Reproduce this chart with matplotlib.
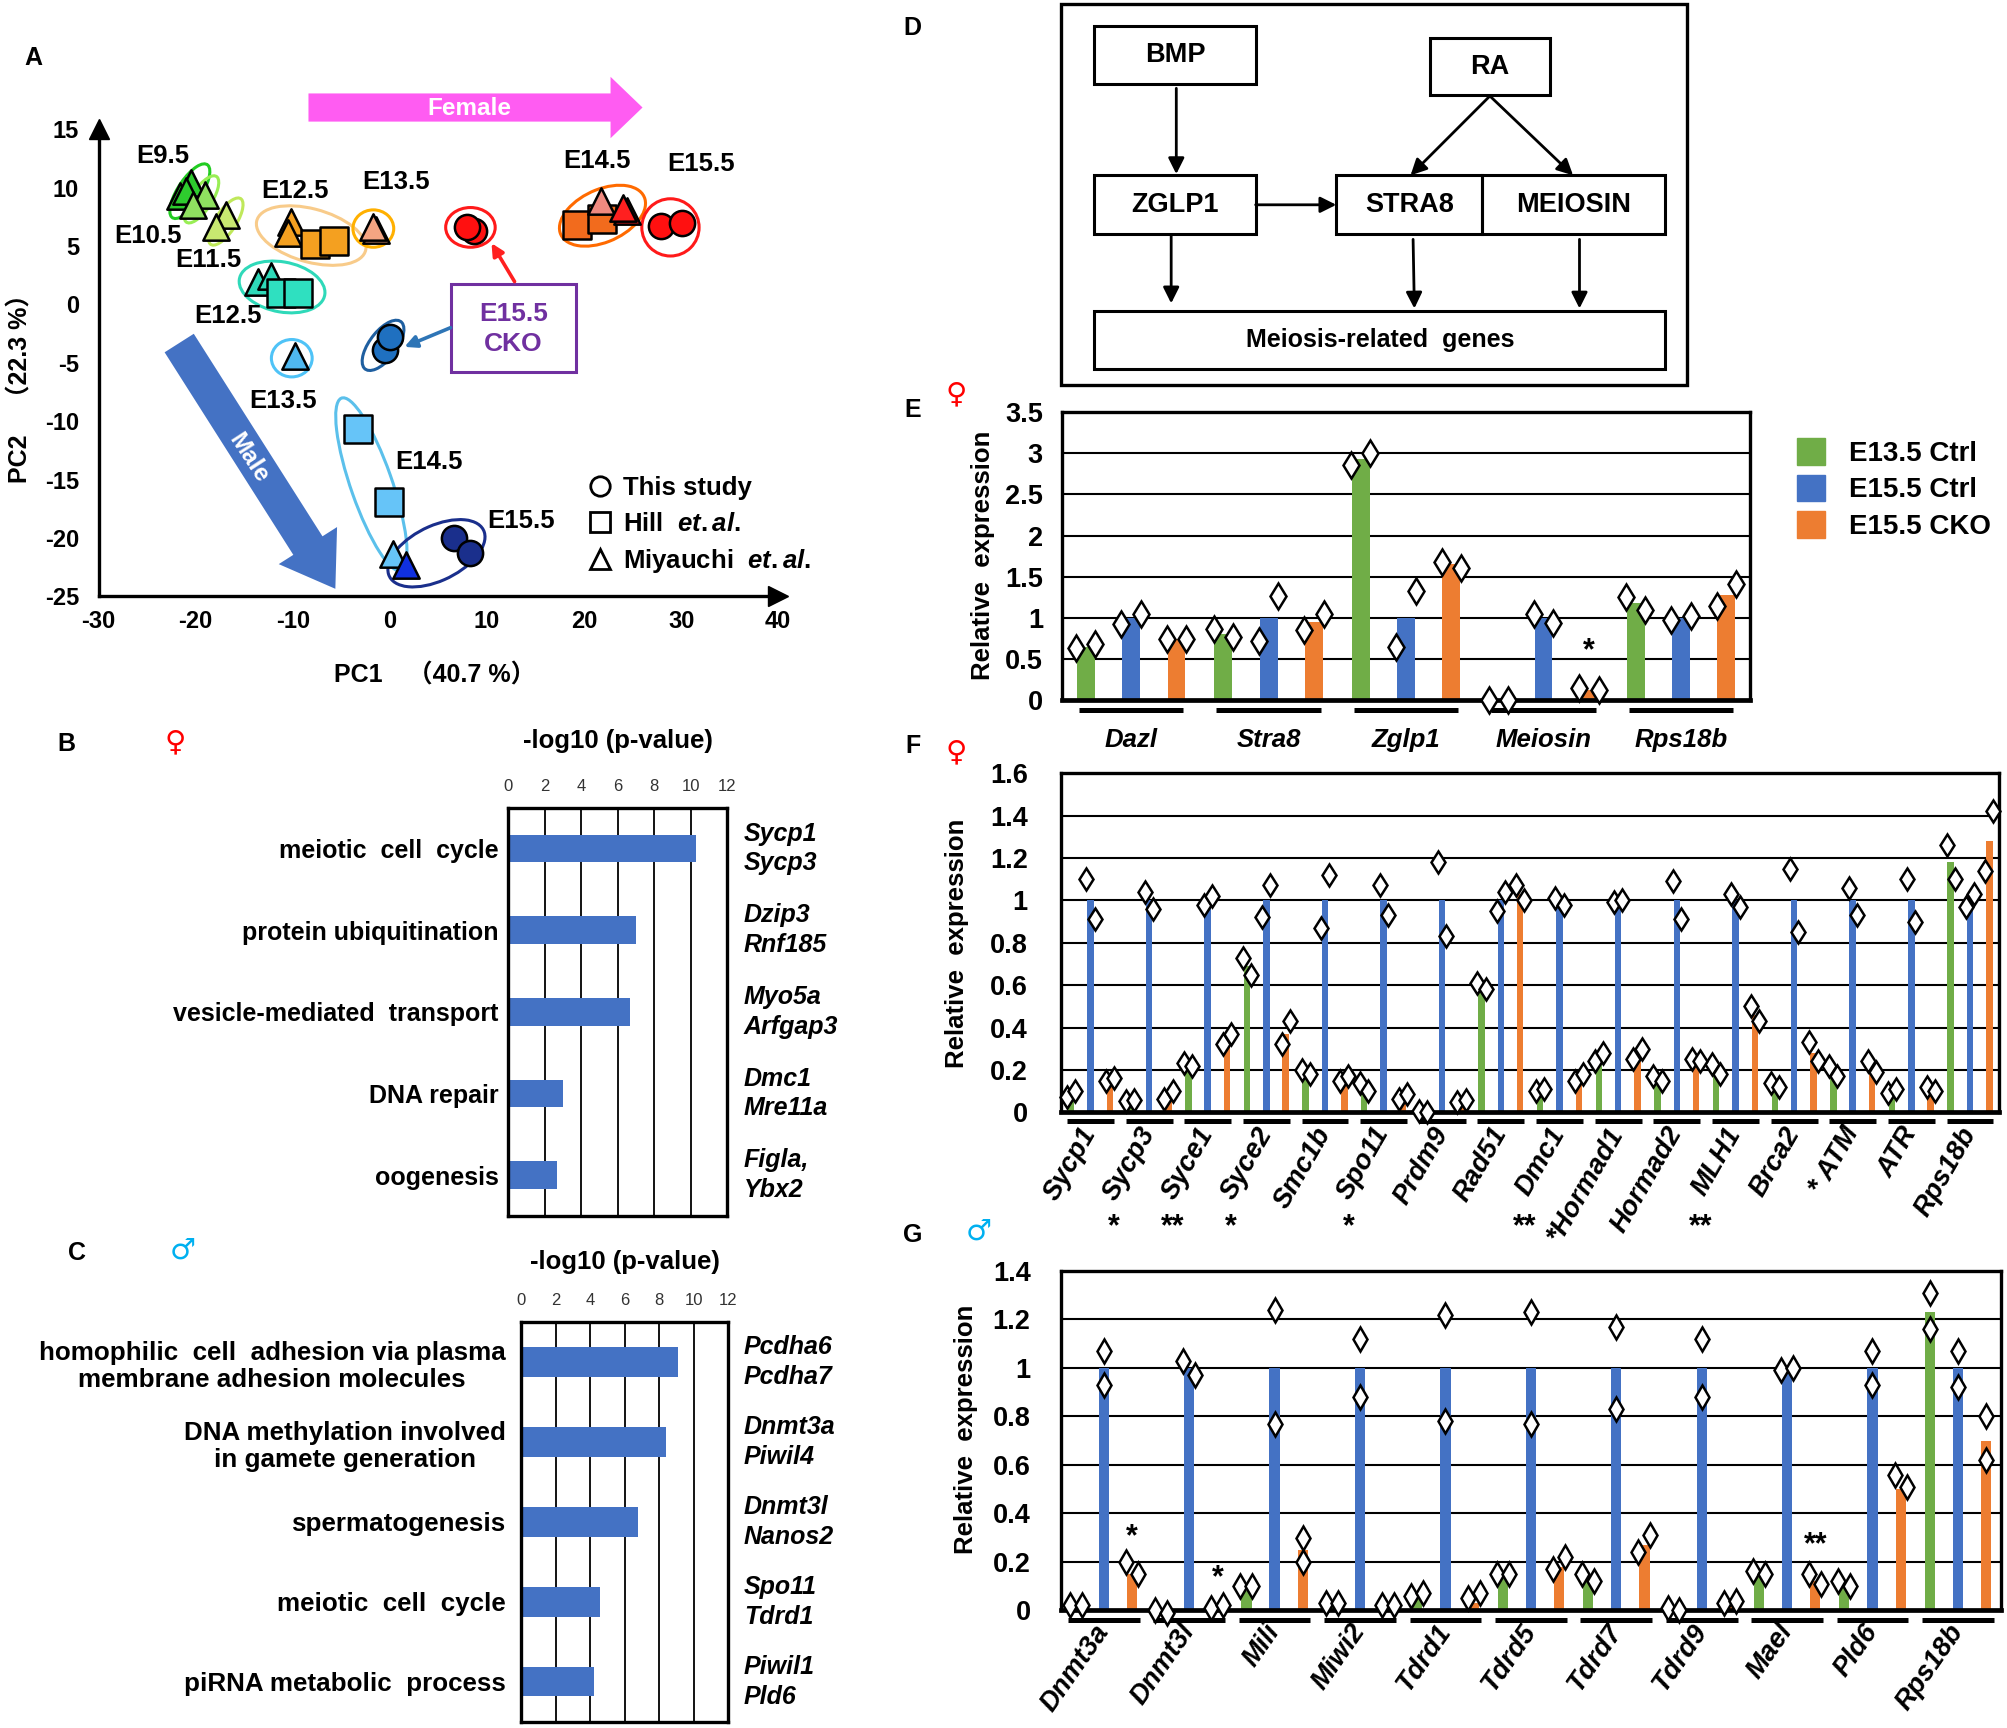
import numpy as np
import matplotlib.pyplot as plt
import matplotlib.transforms as mtransforms
from matplotlib.patches import Ellipse, Rectangle, FancyArrow, Patch
from matplotlib.lines import Line2D

plt.rcParams['font.family'] = ['Liberation Sans', 'DejaVu Sans']
plt.rcParams['font.weight'] = 'bold'
plt.rcParams['axes.unicode_minus'] = False
plt.rcParams['mathtext.fontset'] = 'custom'
plt.rcParams['mathtext.it'] = 'Liberation Sans:italic:bold'
plt.rcParams['mathtext.rm'] = 'Liberation Sans:bold'

GREEN, BLUE, ORANGE = '#70ad47', '#4472c4', '#ed7d31'

#---------------------
# (A) PCA data
#---------------------
pca_pc1 = [-21.6, -20.5, -21.0, -19.0, -20.3, -16.9, -17.9,
           -10.2, -10.5, -7.7, -5.7, -1.4, -1.7,
           19.3, 21.8, 21.7, 24.4, 24.0, 27.9, 30.1, 8.7, 7.9,
           -13.6, -12.2, -11.2, -9.5, -9.8, -0.5, 0.0,
           -3.3, -0.05, 0.3, 1.7, 6.6, 8.3]
pca_pc2 = [9.3, 10.4, 9.7, 9.4, 8.5, 7.7, 6.6,
           7.1, 6.1, 5.2, 5.4, 6.4, 6.6,
           6.8, 7.3, 8.9, 8.0, 8.3, 6.7, 7.0, 6.3, 6.6,
           1.9, 2.4, 1.0, 1.0, -4.4, -3.9, -2.8,
           -10.7, -16.9, -21.4, -22.3, -20.0, -21.3]
pca_series = ['Miyauchi E9.5'] * 3 + ['Miyauchi E10.5'] * 2 + ['Miyauchi E11.5'] * 2 + \
             ['Miyauchi E12.5F'] * 2 + ['Hill E12.5F'] * 2 + ['Miyauchi E13.5F'] * 2 + \
             ['Hill E14.5F'] * 2 + ['Miyauchi E14.5F'] + ['Miyauchi E15.5F'] * 2 + \
             ['This E15.5F'] * 2 + ['This CKOF'] * 2 + \
             ['Miyauchi E12.5M'] * 2 + ['Hill E12.5M'] * 2 + ['Miyauchi E13.5M'] + \
             ['This CKOM'] * 2 + ['Hill E14.5M'] * 2 + ['Miyauchi E14.5M'] + \
             ['Miyauchi E15.5M'] + ['This E15.5M'] * 2

series_color = {
    'Miyauchi E9.5': '#2ecc2e', 'Miyauchi E10.5': '#8fe060', 'Miyauchi E11.5': '#c8e870',
    'Miyauchi E12.5F': '#f4a020', 'Hill E12.5F': '#f4a020', 'Miyauchi E13.5F': '#f4a582',
    'Hill E14.5F': '#f26b1d', 'Miyauchi E14.5F': '#f08a80', 'Miyauchi E15.5F': '#ff2020',
    'This E15.5F': '#ff1010', 'This CKOF': '#ff1010',
    'Miyauchi E12.5M': '#2fd9b9', 'Hill E12.5M': '#2fe0c0', 'Miyauchi E13.5M': '#4fb8f0',
    'This CKOM': '#1f70c0', 'Hill E14.5M': '#66c4f8', 'Miyauchi E14.5M': '#66c4f8',
    'Miyauchi E15.5M': '#1030e0', 'This E15.5M': '#1a2f8c'}
source_marker = {'This': 'o', 'Hill': 's', 'Miyauchi': '^'}
source_size = {'This': 330, 'Hill': 380, 'Miyauchi': 360}

# rings around clusters: centre x, centre y, width, height, angle, colour
a_rings = [(-20.6, 9.7, 5.8, 2.3, 50, '#22cc22'), (-19.4, 9.0, 5.0, 2.0, 50, '#99ee55'),
           (-16.9, 7.1, 5.0, 2.0, 50, '#bfe85a'), (-8.1, 5.9, 11.5, 4.6, -12, '#f8cb8a'),
           (-1.7, 6.5, 4.2, 3.2, 0, '#ffb000'), (8.3, 6.6, 5.1, 3.4, 0, '#ff1a1a'),
           (21.9, 7.6, 9.2, 4.6, 18, '#ff6a00'), (28.9, 6.6, 5.9, 4.9, 0, '#ff1a1a'),
           (-11.1, 1.5, 8.9, 4.3, -8, '#2fd9b9'), (-10.1, -4.6, 4.2, 3.2, 0, '#4fc3f7'),
           (-0.7, -3.5, 5.5, 2.6, 45, '#1f5fa0'), (-1.9, -15.4, 16.0, 4.2, -67, '#5bc0eb'),
           (4.8, -21.3, 10.5, 4.8, 20, '#1a2f8c')]
a_labels = [('E9.5', -23.4, 12.7), ('E10.5', -24.9, 5.9), ('E11.5', -18.7, 3.8),
            ('E12.5', -9.8, 9.7), ('E13.5', 0.6, 10.5), ('E14.5', 21.3, 12.3),
            ('E15.5', 32.1, 12.0), ('E12.5', -16.7, -1.0), ('E13.5', -11.0, -8.3),
            ('E14.5', 4.0, -13.5), ('E15.5', 13.5, -18.5)]

#---------------------
# (B)(C) GO terms
#---------------------
b_terms = ['meiotic  cell  cycle', 'protein ubiquitination', 'vesicle-mediated  transport',
           'DNA repair', 'oogenesis']
b_vals = [10.3, 7.0, 6.7, 3.0, 2.7]
b_genes = ['Sycp1\nSycp3', 'Dzip3\nRnf185', 'Myo5a\nArfgap3', 'Dmc1\nMre11a', 'Figla,\nYbx2']

c_terms = ['homophilic  cell  adhesion via plasma\nmembrane adhesion molecules',
           'DNA methylation involved\nin gamete generation', 'spermatogenesis',
           'meiotic  cell  cycle', 'piRNA metabolic  process']
c_vals = [9.1, 8.4, 6.8, 4.6, 4.2]
c_genes = ['Pcdha6\nPcdha7', 'Dnmt3a\nPiwil4', 'Dnmt3l\nNanos2', 'Spo11\nTdrd1', 'Piwil1\nPld6']

#---------------------
# (E)(F)(G) qPCR
#---------------------
groups = ['E13.5 Ctrl', 'E15.5 Ctrl', 'E15.5 CKO']

e_genes = ['Dazl', 'Stra8', 'Zglp1', 'Meiosin', 'Rps18b']
e_ctrl135 = [0.65, 0.81, 2.93, 0.0, 1.18]
e_ctrl155 = [1.0, 1.0, 1.0, 1.0, 1.0]
e_cko = [0.74, 0.95, 1.65, 0.12, 1.28]
e_ctrl135_reps = [(0.63, 0.68), (0.86, 0.77), (2.86, 3.0), (0.0, 0.0), (1.25, 1.1)]
e_ctrl155_reps = [(0.92, 1.05), (0.72, 1.27), (0.65, 1.33), (1.05, 0.94), (0.97, 1.02)]
e_cko_reps = [(0.74, 0.74), (0.85, 1.05), (1.68, 1.61), (0.15, 0.12), (1.14, 1.41)]

f_genes = ['Sycp1', 'Sycp3', 'Syce1', 'Syce2', 'Smc1b', 'Spo11', 'Prdm9', 'Rad51', 'Dmc1',
           '*Hormad1', 'Hormad2', 'MLH1', 'Brca2', '* ATM', 'ATR', 'Rps18b']
f_ctrl135 = [0.08, 0.06, 0.22, 0.69, 0.19, 0.12, 0.0, 0.59, 0.1, 0.26, 0.16, 0.2, 0.13, 0.19, 0.1, 1.18]
f_ctrl155 = [1.0] * 16
f_cko = [0.15, 0.08, 0.34, 0.37, 0.16, 0.07, 0.05, 1.03, 0.16, 0.27, 0.24, 0.46, 0.28, 0.21, 0.11, 1.28]
f_ctrl135_reps = [(0.07, 0.1), (0.055, 0.06), (0.235, 0.22), (0.73, 0.65), (0.2, 0.18), (0.14, 0.1),
                  (0.005, 0.0), (0.61, 0.58), (0.1, 0.11), (0.24, 0.28), (0.17, 0.15), (0.23, 0.18),
                  (0.14, 0.12), (0.22, 0.17), (0.09, 0.11), (1.26, 1.1)]
f_ctrl155_reps = [(1.1, 0.91), (1.04, 0.96), (0.98, 1.02), (0.92, 1.07), (0.87, 1.12), (1.07, 0.93),
                  (1.18, 0.83), (0.95, 1.04), (1.01, 0.98), (0.99, 1.0), (1.09, 0.91), (1.03, 0.97),
                  (1.15, 0.85), (1.06, 0.93), (1.1, 0.9), (0.97, 1.03)]
f_cko_reps = [(0.15, 0.16), (0.065, 0.1), (0.32, 0.37), (0.32, 0.43), (0.15, 0.17), (0.063, 0.086),
              (0.05, 0.06), (1.07, 1.0), (0.15, 0.18), (0.25, 0.3), (0.25, 0.24), (0.5, 0.43),
              (0.33, 0.24), (0.24, 0.19), (0.12, 0.1), (1.14, 1.42)]
f_star_genes = ['Sycp3', 'Syce1', 'Syce2', 'Spo11', 'Dmc1', 'MLH1']
f_star_marks = ['*', '**', '*', '*', '**', '**']

g_genes = ['Dnmt3a', 'Dnmt3l', 'Mili', 'Miwi2', 'Tdrd1', 'Tdrd5', 'Tdrd7', 'Tdrd9', 'Mael', 'Pld6', 'Rps18b']
g_ctrl135 = [0.02, 0.0, 0.08, 0.02, 0.05, 0.14, 0.12, 0.0, 0.14, 0.1, 1.23]
g_ctrl155 = [1.0] * 11
g_cko = [0.15, 0.01, 0.25, 0.02, 0.03, 0.18, 0.27, 0.02, 0.12, 0.5, 0.7]
g_ctrl135_reps = [(0.02, 0.02), (0.0, -0.01), (0.1, 0.1), (0.03, 0.03), (0.06, 0.07), (0.15, 0.15),
                  (0.15, 0.12), (0.01, 0.0), (0.16, 0.15), (0.12, 0.1), (1.31, 1.16)]
g_ctrl155_reps = [(1.07, 0.93), (1.03, 0.97), (1.24, 0.77), (1.12, 0.88), (1.22, 0.78), (1.23, 0.77),
                  (1.17, 0.83), (1.12, 0.88), (0.99, 1.0), (1.07, 0.93), (1.07, 0.92)]
g_cko_reps = [(0.2, 0.15), (0.01, 0.02), (0.3, 0.2), (0.02, 0.02), (0.05, 0.07), (0.17, 0.22),
              (0.24, 0.31), (0.03, 0.04), (0.15, 0.11), (0.56, 0.51), (0.8, 0.62)]
g_star_genes = ['Dnmt3a', 'Dnmt3l', 'Mael']
g_star_marks = ['*', '*', '**']
g_star_y = [0.3, 0.13, 0.27]

#---------------------
# layout (reference units 1568 x 1350)
#---------------------
W, H = 1568, 1350
fig = plt.figure(figsize=(20.07, 17.28), dpi=100)


def rect(x0, y0, x1, y1):
    return [x0 / W, 1 - y1 / H, (x1 - x0) / W, (y1 - y0) / H]


#---------------------
# A
#---------------------
axA = fig.add_axes(rect(77, 101, 608, 466))
for cx, cy, w, h, ang, col in a_rings:
    axA.add_patch(Ellipse((cx, cy), w, h, angle=ang, fill=False, edgecolor=col, lw=2.2, zorder=2))
for x, y, s in zip(pca_pc1, pca_pc2, pca_series):
    src = s.split()[0]
    axA.scatter(x, y, marker=source_marker[src], s=source_size[src], facecolor=series_color[s],
                edgecolor='black', linewidths=1.8, zorder=3)
for t, x, y in a_labels:
    axA.text(x, y, t, ha='center', va='center', fontsize=18.5)
axA.set_xlim(-30, 40)
axA.set_ylim(-25, 15)
axA.set_xticks(range(-30, 41, 10))
axA.set_yticks(range(-25, 16, 5))
axA.spines[['top', 'right']].set_visible(False)
axA.spines[['left', 'bottom']].set_linewidth(2.4)
axA.tick_params(length=0, labelsize=17)
axA.tick_params(axis='y', pad=14)
axA.tick_params(axis='x', pad=10)
axA.plot(1, 0, '>k', ms=14, transform=axA.transAxes, clip_on=False)
axA.plot(0, 1, '^k', ms=14, transform=axA.transAxes, clip_on=False)
leg_h = [Line2D([], [], ls='none', marker=m, ms=14, mfc='white', mec='black', mew=2)
         for m in ['o', 's', '^']]
axA.legend(leg_h, ['This study', r'Hill  $\mathit{et.al.}$', r'Miyauchi  $\mathit{et.al.}$'],
           loc='upper left', bbox_to_anchor=(0.70, 0.285), frameon=False, fontsize=18.5,
           handletextpad=0.4, labelspacing=0.45, handlelength=1.0, borderpad=0)


#---------------------
# B, C
#---------------------
def go_panel(ax, terms, vals, genes, bh, title, tpad, lpad, lsize):
    y = np.arange(len(terms))
    ax.barh(y, vals, height=bh, color=BLUE, zorder=2)
    ax.set_xlim(0, 12)
    ax.set_ylim(len(terms) - 0.5, -0.5)
    ax.set_xticks(range(0, 13, 2))
    ax.xaxis.tick_top()
    ax.xaxis.grid(True, color='black', lw=1.3)
    ax.set_axisbelow(True)
    ax.tick_params(axis='x', length=0, labelsize=12, pad=10, labelcolor='#333333')
    for lbl in ax.get_xticklabels():
        lbl.set_fontweight('normal')
    ax.set_yticks(y, terms, fontsize=lsize, multialignment='center')
    ax.tick_params(axis='y', length=0, pad=lpad)
    for sp in ax.spines.values():
        sp.set_linewidth(2.4)
    tr = mtransforms.blended_transform_factory(ax.transAxes, ax.transData)
    for yi, g in zip(y, genes):
        ax.text(1.075, yi, g, transform=tr, ha='left', va='center', style='italic',
                fontsize=18, linespacing=1.3)
    ax.set_title(title, fontsize=18.5, fontweight='bold', pad=tpad)


axB = fig.add_axes(rect(397, 631, 568, 950))
go_panel(axB, b_terms, b_vals, b_genes, 0.34, '-log10 (p-value)', 43, 7, 18)
axC = fig.add_axes(rect(407, 1033, 569, 1345))
go_panel(axC, c_terms, c_vals, c_genes, 0.37, '-log10 (p-value)', 38, 11, 18.7)


#---------------------
# E, F, G
#---------------------
def expr_panel(ax, genes, means, reps, ymax, ystep, bw, ms, gap, ypad, ux, uy):
    x = np.arange(len(genes))
    for m, r, col, off in zip(means, reps, [GREEN, BLUE, ORANGE], [-0.33, 0, 0.33]):
        ax.bar(x + off, m, bw, color=col, zorder=2)
        for xi, (a, b) in zip(x, r):
            d = 0.07 if abs(a - b) < gap else 0
            ax.plot([xi + off - d, xi + off + d], [a, b], ls='none', marker='d', ms=ms,
                    mfc='white', mec='black', mew=1.8, zorder=4, clip_on=False)
    ax.set_xlim(-0.5, len(genes) - 0.5)
    ax.set_ylim(0, ymax)
    ticks = np.arange(0, ymax + 1e-9, ystep)
    ax.set_yticks(ticks, [f'{t:g}' for t in ticks])
    ax.yaxis.grid(True, color='black', lw=1.5)
    ax.set_axisbelow(True)
    for sp in ax.spines.values():
        sp.set_linewidth(2.4)
    ax.spines['bottom'].set_linewidth(3.4)
    ax.tick_params(axis='y', length=0, labelsize=19.5, pad=ypad)
    ax.tick_params(axis='x', length=0)
    tr = mtransforms.blended_transform_factory(ax.transData, ax.transAxes)
    for xi in x:
        ax.plot([xi - ux, xi + ux], [uy, uy], color='black', lw=3.6, transform=tr,
                clip_on=False, solid_capstyle='butt')
    return tr


axE = fig.add_axes(rect(830, 322, 1367, 547))
expr_panel(axE, e_genes, [e_ctrl135, e_ctrl155, e_cko],
           [e_ctrl135_reps, e_ctrl155_reps, e_cko_reps], 3.5, 0.5, 0.13, 13, 99, 14, 0.38, -0.035)
axE.set_xticks(range(len(e_genes)), e_genes, fontsize=18.5, style='italic')
axE.tick_params(axis='x', pad=20)
axE.text(e_genes.index('Meiosin') + 0.33, 0.6, '*', ha='center', va='center', fontsize=22)
axE.legend([Patch(color=c) for c in [GREEN, BLUE, ORANGE]], groups, loc='upper left',
           bbox_to_anchor=(1.069, 0.91), frameon=False, fontsize=20, handlelength=1.0,
           handleheight=1.1, handletextpad=0.85, labelspacing=0.28, borderpad=0, borderaxespad=0)

axF = fig.add_axes(rect(829, 604, 1562, 869))
trF = expr_panel(axF, f_genes, [f_ctrl135, f_ctrl155, f_cko],
                 [f_ctrl135_reps, f_ctrl155_reps, f_cko_reps], 1.6, 0.2, 0.11, 11.5, 99, 24, 0.40, -0.025)
axF.set_xticks(range(len(f_genes)), f_genes, fontsize=19.5, style='italic', rotation=60,
               ha='right', va='center', rotation_mode='anchor')
axF.tick_params(axis='x', pad=12)
for g, s in zip(f_star_genes, f_star_marks):
    axF.text(f_genes.index(g) - 0.6, -0.34, s, transform=trF, ha='center', va='center', fontsize=22)

axG = fig.add_axes(rect(829, 993, 1563, 1258))
expr_panel(axG, g_genes, [g_ctrl135, g_ctrl155, g_cko],
           [g_ctrl135_reps, g_ctrl155_reps, g_cko_reps], 1.4, 0.2, 0.12, 12, 0.08, 22, 0.42, -0.028)
axG.set_xticks(range(len(g_genes)), g_genes, fontsize=19.5, style='italic', rotation=55,
               ha='right', va='center', rotation_mode='anchor')
axG.tick_params(axis='x', pad=12)
for g, s, yv in zip(g_star_genes, g_star_marks, g_star_y):
    axG.text(g_genes.index(g) + 0.33, yv, s, ha='center', va='center', fontsize=22)

#---------------------
# overlay: arrows, diagram, letters
#---------------------
ov = fig.add_axes([0, 0, 1, 1])
ov.set_xlim(0, W)
ov.set_ylim(H, 0)
ov.set_axis_off()

# female / male arrows of A
ov.add_patch(FancyArrow(241, 84, 261, 0, width=22, head_width=48, head_length=25,
                        length_includes_head=True, color='#ff5cf2', lw=0))
ov.text(367, 85, 'Female', color='white', ha='center', va='center', fontsize=17.5)
ov.add_patch(FancyArrow(140, 268, 122, 192, width=27, head_width=54, head_length=40,
                        length_includes_head=True, color='#4472c4', lw=0))
ov.text(194, 358, 'Male', color='white', ha='center', va='center', fontsize=17.5, rotation=-57)
ov.add_patch(Rectangle((352, 222), 98, 69, fill=False, edgecolor='#7030a0', lw=2.2))
ov.text(401, 257, 'E15.5\nCKO', color='#7030a0', ha='center', va='center', fontsize=19,
        linespacing=1.3)
ov.annotate('', xy=(384, 190), xytext=(402, 220),
            arrowprops=dict(arrowstyle='-|>', color='#ff2020', lw=2.6, mutation_scale=18,
                            shrinkA=0, shrinkB=0))
ov.annotate('', xy=(316, 271), xytext=(352, 256),
            arrowprops=dict(arrowstyle='-|>', color='#2e75b6', lw=2.6, mutation_scale=18,
                            shrinkA=0, shrinkB=0))
ov.text(340, 528, 'PC1　（40.7 %）', ha='center', va='center', fontsize=18,
        family=['Liberation Sans', 'Noto Sans CJK JP'])
ov.text(16, 299, 'PC2　（22.3 %）', ha='center', va='center', fontsize=18, rotation=90,
        family=['Liberation Sans', 'Noto Sans CJK JP'])

# D pathway diagram
ov.add_patch(Rectangle((829, 3), 489, 298, fill=False, edgecolor='black', lw=2.4))
d_boxes = [(855, 20, 981, 66, 'BMP'), (1117, 30, 1211, 74, 'RA'),
           (855, 137, 981, 183, 'ZGLP1'), (1044, 137, 1158, 183, 'STRA8'),
           (1158, 137, 1301, 183, 'MEIOSIN'), (855, 243, 1301, 288, 'Meiosis-related  genes')]
for x0, y0, x1, y1, t in d_boxes:
    ov.add_patch(Rectangle((x0, y0), x1 - x0, y1 - y0, fill=False, edgecolor='black', lw=2.2))
    ov.text((x0 + x1) / 2, (y0 + y1) / 2, t, ha='center', va='center',
            fontsize=19.5 if len(t) < 10 else 18)
d_arrows = [((919, 69), (919, 136)), ((1164, 75), (1102, 137)), ((1164, 75), (1229, 137)),
            ((981, 160), (1044, 160)), ((915, 184), (915, 237)), ((1104, 187), (1105, 241)),
            ((1234, 187), (1234, 241))]
for (x0, y0), (x1, y1) in d_arrows:
    ov.annotate('', xy=(x1, y1), xytext=(x0, y0),
                arrowprops=dict(arrowstyle='-|>', color='black', lw=2, mutation_scale=24,
                                shrinkA=0, shrinkB=0))

# y labels of E/F/G
for xc, yc in [(768, 434), (748, 737), (755, 1117)]:
    ov.text(xc, yc, 'Relative  expression', ha='center', va='center', rotation=90, fontsize=18.5)

# panel letters and sex symbols
for t, x, y in [('A', 26, 45), ('B', 52, 581), ('C', 60, 979), ('D', 713, 22),
                ('E', 713, 320), ('F', 713, 583), ('G', 713, 965)]:
    ov.text(x, y, t, ha='center', va='center', fontsize=18)
for t, x, y, c in [('♀', 137, 580, '#ff0000'), ('♂', 143, 977, '#00b0f0'),
                   ('♀', 747, 308, '#ff0000'), ('♀', 747, 588, '#ff0000'),
                   ('♂', 765, 962, '#00b0f0')]:
    ov.text(x, y, t, ha='center', va='center', fontsize=21, color=c, family='DejaVu Sans',
            fontweight='normal')

fig.savefig('out.png', dpi=100)
